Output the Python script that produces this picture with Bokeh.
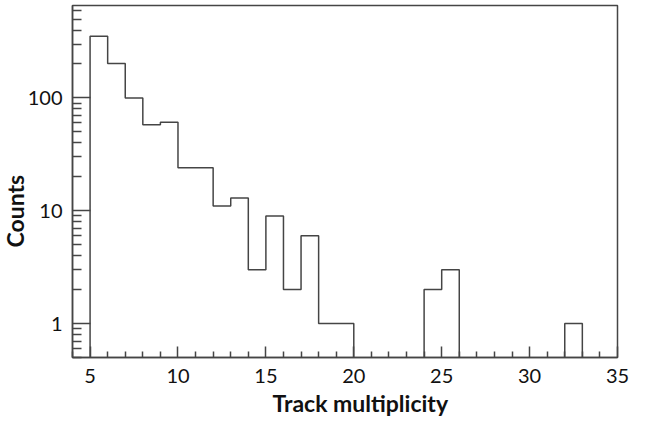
from bokeh.plotting import figure
from bokeh.models import FixedTicker, PrintfTickFormatter, Title
from bokeh.embed import file_html
from bokeh.resources import INLINE

# ---- data ----
bin_edges = list(range(4, 36))          # 4 .. 35, unit-width bins
bin_counts = [0, 352, 202, 100, 58, 61, 24, 24, 11, 13, 3, 9, 2, 6, 1, 1,
              0, 0, 0, 0, 2, 3, 0, 0, 0, 0, 0, 0, 1, 0, 0]
x_ticks = [5, 10, 15, 20, 25, 30, 35]
y_ticks = [1, 10, 100]
x_label = "Track multiplicity"
y_label = "Counts"

FONT = "Lato"
COL = "#454545"
floor = 0.1  # empty bins drawn at the bottom (below visible range)

xs, ys = [], []
for i, c in enumerate(bin_counts):
    v = c if c > 0 else floor
    xs += [bin_edges[i], bin_edges[i + 1]]
    ys += [v, v]

p = figure(width=630, height=423, x_range=(4, 35), y_range=(0.5, 660),
           y_axis_type="log", output_backend="svg", toolbar_location=None,
           min_border_left=72, min_border_right=13, min_border_top=5,
           min_border_bottom=66)
p.xgrid.visible = False
p.ygrid.visible = False
p.background_fill_color = "white"
p.outline_line_color = COL
p.outline_line_width = 1.5
p.outline_line_alpha = 1.0

p.line(xs, ys, line_color=COL, line_width=1.5)

# x axis
p.xaxis.ticker = FixedTicker(ticks=x_ticks,
                             minor_ticks=[v for v in range(4, 36) if v not in x_ticks])
p.xaxis.major_tick_in = 11
p.xaxis.major_tick_out = 0
p.xaxis.minor_tick_in = 6
p.xaxis.minor_tick_out = 0
p.xaxis.major_label_standoff = 11

# y axis
minor = [m * 10 ** k for k in (-1, 0, 1, 2) for m in range(2, 10)]
minor = [v for v in minor if 0.5 <= v <= 660 and v not in y_ticks]
p.yaxis.ticker = FixedTicker(ticks=y_ticks, minor_ticks=minor)
p.yaxis.formatter = PrintfTickFormatter(format="%d")
p.yaxis.major_tick_in = 18
p.yaxis.major_tick_out = 0
p.yaxis.minor_tick_in = 9
p.yaxis.minor_tick_out = 0
p.yaxis.major_label_standoff = 10

for ax in (p.xaxis, p.yaxis):
    ax.axis_line_color = COL
    ax.axis_line_width = 1.5
    ax.major_tick_line_color = COL
    ax.major_tick_line_width = 1.5
    ax.minor_tick_line_color = COL
    ax.minor_tick_line_width = 1.5
    ax.major_label_text_font = FONT
    ax.major_label_text_font_size = "20px"
    ax.major_label_text_color = "#111111"

p.add_layout(Title(text=y_label, align="left", offset=110, standoff=-8,
                   text_font=FONT, text_font_size="23px",
                   text_font_style="bold", text_color="#111111"), "left")
p.add_layout(Title(text=x_label, align="left", offset=200, standoff=3,
                   text_font=FONT, text_font_size="23px",
                   text_font_style="bold", text_color="#111111"), "below")

open("out.html", "w").write(file_html(p, INLINE))
